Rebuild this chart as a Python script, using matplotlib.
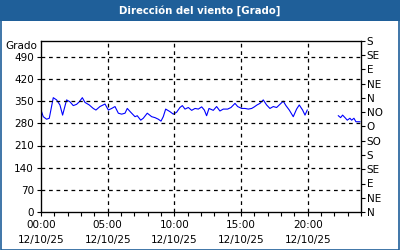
import numpy as np
import matplotlib
matplotlib.use("Agg")
import matplotlib.pyplot as plt
from matplotlib.patches import Rectangle

# Horas del día (12/10/25) y dirección del viento en grados
horas = [0.0, 0.17, 0.42, 0.62, 0.92, 1.17, 1.42, 1.62, 1.92, 2.17, 2.42, 2.67,
         2.87, 3.1, 3.3, 3.62, 3.92, 4.12, 4.42, 4.8, 5.05, 5.3, 5.55, 5.8,
         6.05, 6.3, 6.47, 6.73, 7.05, 7.22, 7.48, 7.67, 7.97, 8.3, 8.55, 8.8,
         9.0, 9.17, 9.35, 9.67, 9.92, 10.17, 10.42, 10.6, 10.8, 11.05, 11.3,
         11.55, 11.8, 12.05, 12.25, 12.42, 12.6, 12.92, 13.17, 13.42, 13.67,
         14.0, 14.25, 14.55, 14.75, 15.05, 15.3, 15.55, 15.8, 16.0, 16.2,
         16.42, 16.67, 16.92, 17.17, 17.42, 17.67, 17.92, 18.17, 18.37, 18.62,
         18.92, 19.17, 19.37, 19.62, 19.8, 19.97, 21.0,
         22.3, 22.47, 22.62, 22.8, 22.97, 23.17, 23.3, 23.47, 23.62, 23.92]
grados = [322, 301, 293, 296, 361, 354, 338, 306, 354, 348, 336, 340,
          348, 361, 346, 338, 327, 322, 333, 341, 322, 327, 333, 312,
          309, 312, 327, 315, 301, 304, 290, 296, 312, 301, 298, 293,
          287, 301, 325, 317, 309, 315, 330, 336, 325, 330, 321,
          327, 325, 332, 322, 304, 327, 321, 333, 319, 325,
          325, 330, 343, 333, 327, 327, 325, 327, 332, 338,
          343, 354, 338, 327, 333, 330, 340, 350, 336, 322,
          301, 325, 338, 322, 306, 322, np.nan,
          304, 298, 306, 298, 290, 296, 290, 296, 285, 285]

ticks_grado = [0, 70, 140, 210, 280, 350, 420, 490]
rumbos = ["N", "NE", "E", "SE", "S", "SO", "O", "NO", "N", "NE", "E", "SE", "S"]
ticks_horas = [0, 5, 10, 15, 20]
etiquetas_horas = ["00:00\n12/10/25", "05:00\n12/10/25", "10:00\n12/10/25",
                   "15:00\n12/10/25", "20:00\n12/10/25"]

azul = "#1f5f99"

fig = plt.figure(figsize=(4, 2.5), dpi=100)
fig.patches.append(Rectangle((0, 1 - 21 / 250), 1, 21 / 250, transform=fig.transFigure,
                             facecolor=azul, edgecolor="none", zorder=0))
fig.patches.append(Rectangle((0.0015, 0.002), 0.997, 0.996, transform=fig.transFigure,
                             facecolor="none", edgecolor=azul, linewidth=1.2, zorder=0))
fig.text(0.5, 1 - 10.5 / 250, "Dirección del viento [Grado]", color="white",
         fontsize=7.3, fontweight="bold", ha="center", va="center")

ax = fig.add_axes([41 / 400, 1 - 212 / 250, 320 / 400, 171 / 250])
ax.plot(horas, grados, color="#0000ff", linewidth=0.8)
ax.set_xlim(0, 24)
ax.set_ylim(0, 540)

ax.set_yticks(ticks_grado)
ax.set_xticks(ticks_horas)
ax.set_xticklabels(etiquetas_horas, linespacing=1.55)
ax.set_xticks(range(25), minor=True)
ax.tick_params(axis="both", labelsize=7.5, length=3, width=0.8, colors="black", pad=2)
ax.tick_params(axis="x", which="minor", length=3, width=0.8)
ax.tick_params(axis="x", pad=3)

for y in ticks_grado[1:]:
    ax.axhline(y, color="black", linestyle=(0, (3, 3)), linewidth=0.9)
for x in ticks_horas[1:]:
    ax.axvline(x, color="black", linestyle=(0, (3, 3)), linewidth=0.9)

for s in ax.spines.values():
    s.set_linewidth(0.9)

ax2 = ax.twinx()
ax2.set_ylim(0, 540)
ax2.set_yticks(np.arange(0, 541, 45))
ax2.set_yticklabels(rumbos)
ax2.tick_params(axis="y", labelsize=7.5, length=3, width=0.8, pad=1)

ax.text(-0.012, 1.0, "Grado", transform=ax.transAxes, ha="right", va="top", fontsize=7.5)

fig.savefig("out.png", dpi=100)
